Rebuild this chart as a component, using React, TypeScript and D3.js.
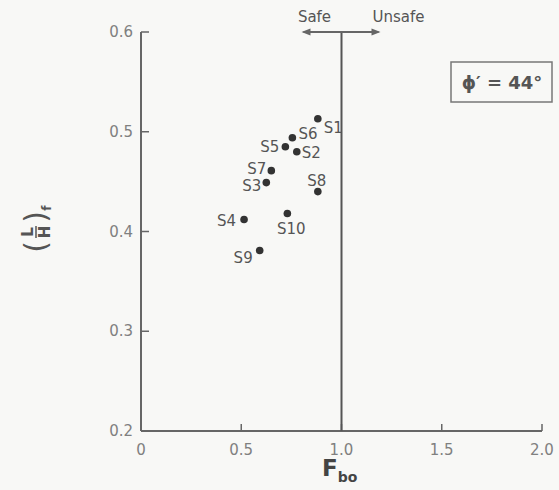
import React from 'react';
import * as d3 from 'd3';

// samples
const sampleIds = ['S1', 'S2', 'S3', 'S4', 'S5', 'S6', 'S7', 'S8', 'S9', 'S10'];
const fboValues = [0.882, 0.777, 0.625, 0.514, 0.72, 0.755, 0.65, 0.882, 0.592, 0.73];
const lhValues = [0.513, 0.48, 0.449, 0.412, 0.485, 0.494, 0.461, 0.44, 0.381, 0.418];

const xTicks = [0, 0.5, 1.0, 1.5, 2.0];
const yTicks = [0.2, 0.3, 0.4, 0.5, 0.6];
const xTickLabels = ['0', '0.5', '1.0', '1.5', '2.0'];
const yTickLabels = ['0.2', '0.3', '0.4', '0.5', '0.6'];

const limitFbo = 1.0;
const frictionLabel = 'ϕ′ = 44°';

// where each sample label sits relative to its dot
const labelPlace: Record<string, { dx: number; dy: number; anchor: string }> = {
  S1: { dx: 6, dy: 14, anchor: 'start' },
  S2: { dx: 5, dy: 6, anchor: 'start' },
  S3: { dx: -5, dy: 8, anchor: 'end' },
  S4: { dx: -8, dy: 6, anchor: 'end' },
  S5: { dx: -6, dy: 5, anchor: 'end' },
  S6: { dx: 6, dy: 1, anchor: 'start' },
  S7: { dx: -5, dy: 3, anchor: 'end' },
  S8: { dx: -1, dy: -6, anchor: 'middle' },
  S9: { dx: -7, dy: 13, anchor: 'end' },
  S10: { dx: 4, dy: 20, anchor: 'middle' },
};

const W = 559;
const H = 490;
const font = '"DejaVu Sans", sans-serif';

export default function App() {
  const x = d3.scaleLinear().domain([0, 2]).range([141, 542]);
  const y = d3.scaleLinear().domain([0.2, 0.6]).range([431, 32]);

  const axisColor = '#666';
  const tickText = '#808080';
  const inkText = '#555';

  const points = sampleIds.map((id, i) => ({ id, fbo: fboValues[i], lh: lhValues[i] }));

  return (
    <svg
      width={W}
      height={H}
      style={{ position: 'absolute', left: 0, top: 0, background: '#f8f8f6' }}
      fontFamily={font}
    >
      {/* axes */}
      <line x1={x(0)} x2={x(0)} y1={y(0.6)} y2={y(0.2)} stroke={axisColor} strokeWidth={2} />
      <line x1={x(0)} x2={x(2)} y1={y(0.2)} y2={y(0.2)} stroke={axisColor} strokeWidth={2} />

      {yTicks.map((t, i) => (
        <g key={'y' + t}>
          {t > 0.2 && (
            <line x1={x(0)} x2={x(0) + 8} y1={y(t)} y2={y(t)} stroke={axisColor} strokeWidth={1.5} />
          )}
          <text x={x(0) - 8} y={y(t) + 5} textAnchor="end" fontSize={15} fill={tickText}>
            {yTickLabels[i]}
          </text>
        </g>
      ))}

      {xTicks.map((t, i) => (
        <g key={'x' + t}>
          {t > 0 && (
            <line x1={x(t)} x2={x(t)} y1={y(0.2)} y2={y(0.2) - 7} stroke={axisColor} strokeWidth={1.5} />
          )}
          <text x={x(t)} y={y(0.2) + 24} textAnchor="middle" fontSize={15} fill={tickText}>
            {xTickLabels[i]}
          </text>
        </g>
      ))}

      {/* safe / unsafe boundary */}
      <line x1={x(limitFbo)} x2={x(limitFbo)} y1={y(0.6)} y2={y(0.2)} stroke="#555" strokeWidth={2} />
      <line x1={x(limitFbo) - 38} x2={x(limitFbo) + 37} y1={y(0.6)} y2={y(0.6)} stroke="#666" strokeWidth={2} />
      <path d={`M${x(limitFbo) - 40},${y(0.6)} l9,-3.5 l0,7 Z`} fill="#666" />
      <path d={`M${x(limitFbo) + 39},${y(0.6)} l-9,-3.5 l0,7 Z`} fill="#666" />
      <text x={x(limitFbo) - 27} y={22} textAnchor="middle" fontSize={15} fill={inkText}>
        Safe
      </text>
      <text x={x(limitFbo) + 57} y={22} textAnchor="middle" fontSize={15} fill={inkText}>
        Unsafe
      </text>

      {/* samples */}
      {points.map((p) => {
        const pl = labelPlace[p.id];
        return (
          <g key={p.id}>
            <circle cx={x(p.fbo)} cy={y(p.lh)} r={3.8} fill="#333" />
            <text
              x={x(p.fbo) + pl.dx}
              y={y(p.lh) + pl.dy}
              textAnchor={pl.anchor}
              fontSize={15}
              fill={inkText}
            >
              {p.id}
            </text>
          </g>
        );
      })}

      {/* friction angle box */}
      <rect x={451} y={62} width={101} height={40} fill="none" stroke="#777" strokeWidth={1.5} />
      <text x={502} y={89} textAnchor="middle" fontSize={18} fontWeight="bold" fill="#555">
        {frictionLabel}
      </text>

      {/* y axis title (L/H)f */}
      <g transform="translate(37,232) rotate(-90)" fill="#555" fontWeight="bold">
        <text x={0} y={-4} textAnchor="middle" fontSize={15}>L</text>
        <line x1={-6} x2={6} y1={-1} y2={-1} stroke="#555" strokeWidth={1.5} />
        <text x={0} y={13} textAnchor="middle" fontSize={15}>H</text>
        <text x={-15} y={9} textAnchor="middle" fontSize={30} fontWeight="normal">(</text>
        <text x={15} y={9} textAnchor="middle" fontSize={30} fontWeight="normal">)</text>
        <text x={24} y={14} textAnchor="middle" fontSize={12}>f</text>
      </g>

      {/* x axis title F_bo */}
      <text x={322} y={476} fontSize={23} fontWeight="bold" fill="#444">
        F
        <tspan dy={6} fontSize={14}>bo</tspan>
      </text>
    </svg>
  );
}
